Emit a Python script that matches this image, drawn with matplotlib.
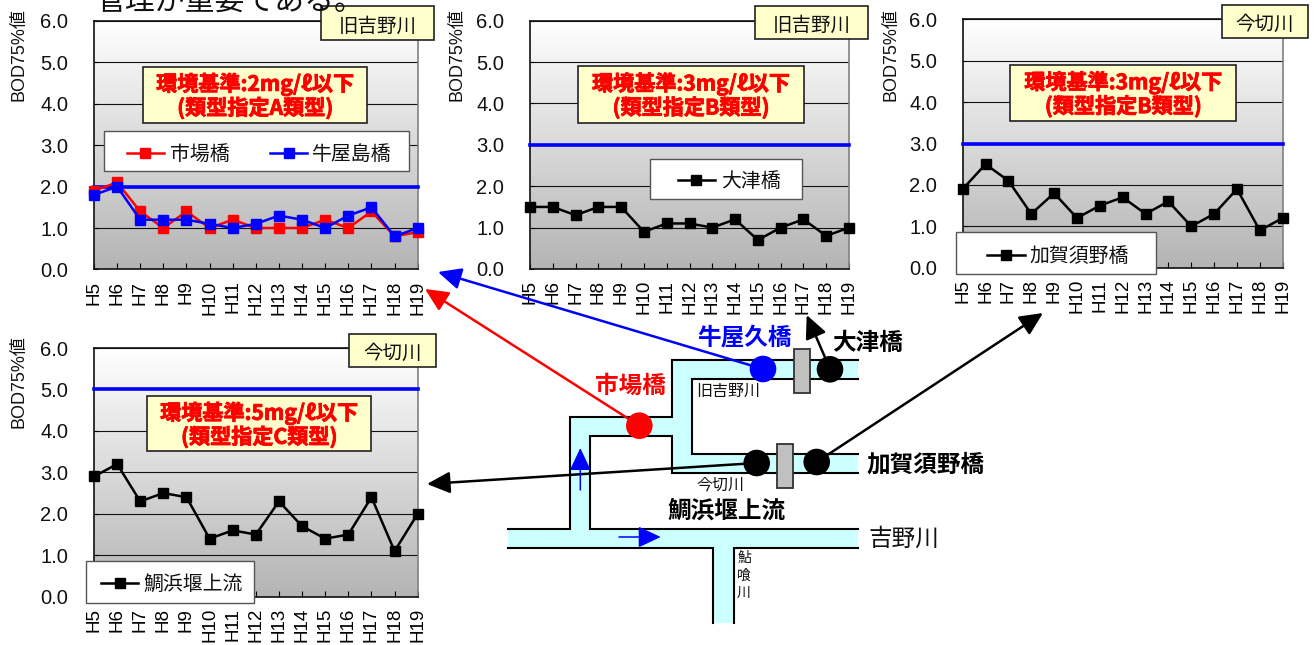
import matplotlib
matplotlib.use("Agg")
import numpy as np
import matplotlib.pyplot as plt
import matplotlib.patheffects as pe
from matplotlib.colors import LinearSegmentedColormap
from matplotlib.patches import Rectangle, Circle, Polygon

W, H = 1316, 645
CJK = ["Noto Sans CJK JP", "DejaVu Sans"]
NARROW = ["Liberation Sans Narrow", "Liberation Sans", "Noto Sans CJK JP"]
plt.rcParams["font.family"] = CJK

years = ["H5", "H6", "H7", "H8", "H9", "H10", "H11", "H12", "H13", "H14", "H15", "H16", "H17", "H18", "H19"]
yticks = [0, 1, 2, 3, 4, 5, 6]

ichiba = [1.9, 2.1, 1.4, 1.0, 1.4, 1.0, 1.2, 1.0, 1.0, 1.0, 1.2, 1.0, 1.4, 0.8, 0.9]
ushiya = [1.8, 2.0, 1.2, 1.2, 1.2, 1.1, 1.0, 1.1, 1.3, 1.2, 1.0, 1.3, 1.5, 0.8, 1.0]
otsu = [1.5, 1.5, 1.3, 1.5, 1.5, 0.9, 1.1, 1.1, 1.0, 1.2, 0.7, 1.0, 1.2, 0.8, 1.0]
kagasuno = [1.9, 2.5, 2.1, 1.3, 1.8, 1.2, 1.5, 1.7, 1.3, 1.6, 1.0, 1.3, 1.9, 0.9, 1.2]
taihama = [2.9, 3.2, 2.3, 2.5, 2.4, 1.4, 1.6, 1.5, 2.3, 1.7, 1.4, 1.5, 2.4, 1.1, 2.0]

grad = LinearSegmentedColormap.from_list("panel", ["#ffffff", "#b4b4b4"])
YELLOW = "#ffffcc"

fig = plt.figure(figsize=(W / 100, H / 100), dpi=100)


def make_panel(box, series, standard):
    # box is left, right, top, bottom in pixels of the figure
    l, r, t, b = box
    ax = fig.add_axes([l / W, 1 - b / H, (r - l) / W, (b - t) / H])
    x = np.arange(len(years))
    ax.imshow(np.linspace(0, 1, 256).reshape(-1, 1), cmap=grad, aspect="auto",
              extent=[0, 14, 0, 6], zorder=0)
    ax.set_xlim(0, 14)
    ax.set_ylim(0, 6)
    ax.set_yticks(yticks)
    ax.set_yticklabels([f"{v:.1f}" for v in yticks], family=["Liberation Sans"], fontsize=14.5, color="#111111")
    ax.set_xticks(x)
    ax.set_xticklabels(years, rotation=90, family=NARROW, fontsize=13.5, va="top", ha="center")
    ax.tick_params(axis="x", direction="in", length=4.5, width=0.8, pad=8)
    ax.tick_params(axis="y", direction="in", length=3, width=0.8, pad=18.5)
    ax.grid(axis="y", color="#111111", lw=0.8, zorder=1)
    ax.set_axisbelow(True)
    for s in ("left", "bottom", "top"):
        ax.spines[s].set_linewidth(1.2)
        ax.spines[s].set_color("#111111")
    ax.spines["right"].set_linewidth(1.2)
    ax.spines["right"].set_color("#808080")
    ax.plot([0, 14], [standard, standard], color="#0000ff", lw=2.6, zorder=3, clip_on=False)
    for values, color in series:
        ax.plot(x, values, color=color, lw=1.8, marker="s", ms=7.5, zorder=4, clip_on=False)
    return ax


make_panel((94, 417.7, 21, 269.4), [(ichiba, "#ff0000"), (ushiya, "#0000ff")], 2)
make_panel((530, 849, 20.7, 269), [(otsu, "#000000")], 3)
make_panel((962.7, 1282.7, 19.3, 267.7), [(kagasuno, "#000000")], 3)
make_panel((94, 417.7, 348, 596.7), [(taihama, "#000000")], 5)

# overlay in pixel coordinates for boxes, legends and the river map
ov = fig.add_axes([0, 0, 1, 1], zorder=10)
ov.set_xlim(0, W)
ov.set_ylim(H, 0)
ov.axis("off")
ov.patch.set_alpha(0)


def box(x0, x1, y0, y1, fc=YELLOW, ec="#222222", lw=1.2, z=5):
    ov.add_patch(Rectangle((x0, y0), x1 - x0, y1 - y0, fc=fc, ec=ec, lw=lw, zorder=z))


# ylabels
for lx, ly in [(19, 55), (457, 55), (891, 55), (19, 382)]:
    ov.text(lx, ly, "BOD75%値", rotation=90, ha="center", va="center", family=NARROW, fontsize=13, color="#111111")

# river name tags
tags = [(320.7, 434, 6.3, 39.7, "旧吉野川"), (754.7, 868, 5.7, 39.3, "旧吉野川"),
        (1221.7, 1307.7, 4.7, 38.3, "今切川"), (349.3, 435.7, 333.7, 367, "今切川")]
for x0, x1, y0, y1, name in tags:
    box(x0, x1, y0, y1)
    ov.text((x0 + x1) / 2, (y0 + y1) / 2 + 3, name, ha="center", va="center", fontsize=14, color="#111111", zorder=6)

# environmental standard notes
notes = [(143.3, 367, 66.7, 123, "環境基準:2mg/ℓ以下\n(類型指定A類型)"),
         (578.3, 803.7, 66.3, 122.7, "環境基準:3mg/ℓ以下\n(類型指定B類型)"),
         (1010.3, 1236.3, 65, 121.3, "環境基準:3mg/ℓ以下\n(類型指定B類型)"),
         (147, 371.3, 396.3, 451.3, "環境基準:5mg/ℓ以下\n(類型指定C類型)")]
for x0, x1, y0, y1, note in notes:
    box(x0, x1, y0, y1)
    t = ov.text((x0 + x1) / 2, (y0 + y1) / 2 + 1, note, ha="center", va="center", fontsize=15.2, color="#ff0000",
                fontweight="bold", linespacing=1.1, zorder=6)
    t.set_path_effects([pe.withStroke(linewidth=0.6, foreground="#ff0000")])

# legends
legends = [((104, 409, 131, 171), 152.7, [(126.7, 164, 170, "市場橋", "#ff0000"), (270, 307, 312, "牛屋島橋", "#0000ff")]),
           ((650.3, 801.7, 159, 199), 180, [(677.7, 715, 720.7, "大津橋", "#000000")]),
           ((956.3, 1156.3, 232.3, 274.3), 255, [(987, 1025, 1029, "加賀須野橋", "#000000")]),
           ((86.3, 254.3, 560.7, 603.3), 583.3, [(100.7, 138.3, 143, "鯛浜堰上流", "#000000")])]
for (x0, x1, y0, y1), cy, entries in legends:
    box(x0, x1, y0, y1, fc="#ffffff", ec="#555555", lw=1.0)
    for hx0, hx1, tx, name, color in entries:
        ov.plot([hx0, hx1], [cy, cy], color=color, lw=1.8, zorder=6)
        ov.plot([(hx0 + hx1) / 2], [cy], color=color, marker="s", ms=7.5, zorder=6)
        ov.text(tx, cy + 1.5, name, ha="left", va="center", fontsize=14.3, color="#111111", zorder=6)

# river map
outline = [(508, 529), (570.3, 529), (570.3, 416.7), (672, 416.7), (672, 360.3), (857.7, 360.3),
           (857.7, 379), (692, 379), (692, 454), (857.7, 454), (857.7, 472.7), (672, 472.7),
           (672, 435.7), (590.3, 435.7), (590.3, 529), (857.7, 529), (857.7, 547.7), (733.7, 547.7),
           (733.7, 623), (712.7, 623), (712.7, 547.7), (508, 547.7)]
ov.add_patch(Polygon(outline, closed=True, fc="#ccffff", ec="none", zorder=1))
for seg in (outline[:6], outline[6:10], outline[10:16], outline[16:19], outline[19:]):
    ov.plot([p[0] for p in seg], [p[1] for p in seg], color="black", lw=1.5, zorder=2, solid_joinstyle="miter")

box(794, 809.7, 348.7, 392.7, fc="#c0c0c0", ec="#333333", lw=1.3, z=3)
box(776.7, 793, 443.7, 488, fc="#c0c0c0", ec="#333333", lw=1.3, z=3)


def arrow(start, end, color, lw=1.8, scale=20):
    ov.annotate("", xy=end, xytext=start, zorder=4,
                arrowprops=dict(arrowstyle="-|>,head_length=0.7,head_width=0.33", color=color, lw=lw,
                                shrinkA=0, shrinkB=0, mutation_scale=scale))


arrow((763, 369), (438, 272), "#0000ff")
arrow((639.3, 425.7), (425, 289), "#ff0000")
arrow((830, 369), (806.7, 315), "#000000")
arrow((816.7, 462), (1043, 313), "#000000")
arrow((756.7, 463), (427, 484), "#000000")
arrow((580.3, 490), (580.3, 448), "#0000ff", lw=1.1)
arrow((619, 537), (660.7, 537), "#0000ff", lw=1.1)

stations = [(763, 369, "#0000ff"), (830, 369.3, "#000000"), (639.3, 425.7, "#ff0000"),
            (756.7, 463, "#000000"), (816.7, 462, "#000000")]
for cx, cy, color in stations:
    ov.add_patch(Circle((cx, cy), 13.3, fc=color, ec="none", zorder=5))

map_labels = [(745, 338.7, "牛屋久橋", "#0000ff", "center", "bold", 17),
              (868, 343, "大津橋", "#000000", "center", "bold", 17),
              (630, 386, "市場橋", "#ff0000", "center", "bold", 17),
              (866, 465, "加賀須野橋", "#000000", "left", "bold", 17),
              (727, 511, "鯛浜堰上流", "#000000", "center", "bold", 17),
              (868, 539, "吉野川", "#111111", "left", "normal", 17),
              (728, 391, "旧吉野川", "#111111", "center", "normal", 11.5),
              (720, 485, "今切川", "#111111", "center", "normal", 11.5)]
for lx, ly, name, color, ha, weight, size in map_labels:
    ov.text(lx, ly, name, color=color, ha=ha, va="center", fontweight=weight, fontsize=size, zorder=7)
ov.text(744, 575.5, "鮎\n喰\n川", ha="center", va="center", fontsize=10, linespacing=1.3, color="#111111", zorder=7)

# leftover line of body text cut off by the top edge
ov.text(96, 1.5, "管理が重要である。", ha="left", va="center", fontsize=21.5, color="#111111", zorder=8, clip_on=False)

fig.savefig("out.png", dpi=100)
